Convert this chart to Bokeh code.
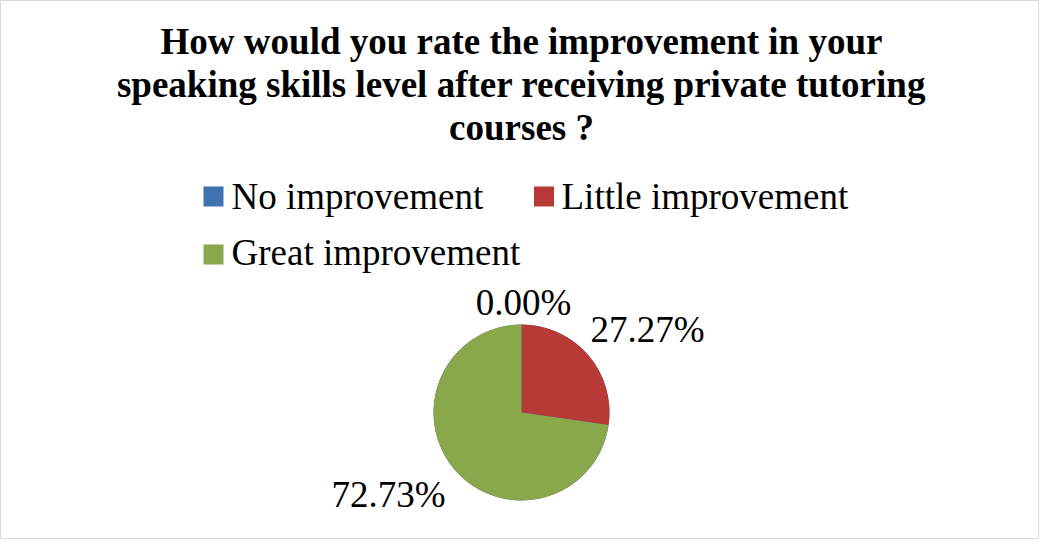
import numpy as np
from bokeh.plotting import figure
from bokeh.models import Range1d, ColumnDataSource
from bokeh.core.properties import value
from bokeh.embed import file_html
from bokeh.resources import INLINE

# ---- data ----
categories = ["No improvement", "Little improvement", "Great improvement"]
percentages = [0.00, 27.27, 72.73]
colors = ["#3f72af", "#b83a37", "#8aa74b"]
title_lines = ["How would you rate the improvement in your",
               "speaking skills level after receiving private tutoring",
               "courses ?"]
label_texts = ["%.2f%%" % v for v in percentages]

W, H = 1039, 539
p = figure(width=W, height=H, output_backend="svg", toolbar_location=None,
           x_range=Range1d(0, W), y_range=Range1d(0, H), min_border=0)
p.axis.visible = False
p.grid.visible = False
p.outline_line_color = "#d9d9d9"
p.outline_line_width = 1
p.background_fill_color = "white"

def X(px):  # page x -> data x
    return px - 8
def Y(py):  # page y -> data y
    return 547 - py

TOFF = 13  # baseline correction
SERIF = value("Liberation Serif")

# title
p.text(x=[X(529)] * 3, y=[Y(62 - TOFF), Y(105 - TOFF), Y(148 - TOFF)], text=title_lines,
       text_font=SERIF, text_font_size="37px", text_font_style="bold",
       text_align="center", text_baseline="alphabetic", text_color="black")

# legend
leg_mx = [X(221), X(551.5), X(221)]
leg_my = [Y(204), Y(204), Y(262)]
leg_tx = [X(239), X(569), X(239)]
leg_ty = [Y(217 - TOFF), Y(217 - TOFF), Y(273 - TOFF)]
p.scatter(x=leg_mx, y=leg_my, marker="square", size=20, fill_color=colors,
          line_color=None)
p.text(x=leg_tx, y=leg_ty, text=categories, text_font=SERIF,
       text_font_size="37px", text_align="left", text_baseline="alphabetic",
       text_color="black")

# pie
frac = np.array(percentages) / 100.0
cum = np.concatenate([[0], np.cumsum(frac)])
start = np.pi / 2 - 2 * np.pi * cum[:-1]
end = np.pi / 2 - 2 * np.pi * cum[1:]
src = ColumnDataSource(dict(start=start, end=end, color=colors))
cx, cy, r = X(529), Y(420), 88
p.wedge(x=cx, y=cy, radius=r, start_angle="start", end_angle="end",
        direction="clock", fill_color="color", line_color=None, source=src)

# data labels
lab_x = [X(531), X(655), X(396)]
lab_y = [Y(323 - TOFF), Y(350 - TOFF), Y(515 - TOFF)]
p.text(x=lab_x, y=lab_y, text=label_texts, text_font=SERIF,
       text_font_size="37px", text_align="center", text_baseline="alphabetic",
       text_color="black")

open("out.html", "w").write(file_html(p, INLINE))
